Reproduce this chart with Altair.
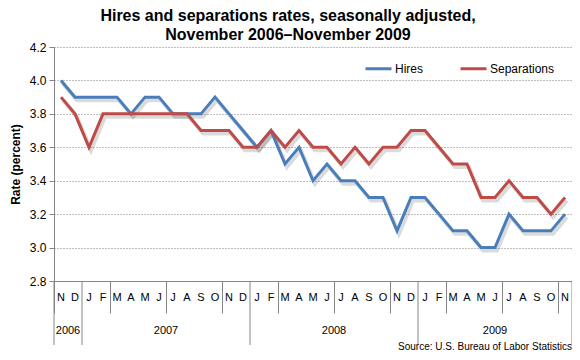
import altair as alt
import pandas as pd

months = ["N", "D",
          "J", "F", "M", "A", "M", "J", "J", "A", "S", "O", "N", "D",
          "J", "F", "M", "A", "M", "J", "J", "A", "S", "O", "N", "D",
          "J", "F", "M", "A", "M", "J", "J", "A", "S", "O", "N"]
hires = [4.0, 3.9,
         3.9, 3.9, 3.9, 3.8, 3.9, 3.9, 3.8, 3.8, 3.8, 3.9, 3.8, 3.7,
         3.6, 3.7, 3.5, 3.6, 3.4, 3.5, 3.4, 3.4, 3.3, 3.3, 3.1, 3.3,
         3.3, 3.2, 3.1, 3.1, 3.0, 3.0, 3.2, 3.1, 3.1, 3.1, 3.2]
separations = [3.9, 3.8,
               3.6, 3.8, 3.8, 3.8, 3.8, 3.8, 3.8, 3.8, 3.7, 3.7, 3.7, 3.6,
               3.6, 3.7, 3.6, 3.7, 3.6, 3.6, 3.5, 3.6, 3.5, 3.6, 3.6, 3.7,
               3.7, 3.6, 3.5, 3.5, 3.3, 3.3, 3.4, 3.3, 3.3, 3.2, 3.3]
years = ["2006", "2007", "2008", "2009"]
year_start = [0, 2, 14, 26]
year_end = [1, 13, 25, 36]
series = ["Hires", "Separations"]
colors = ["#4A7EBB", "#BE4B48"]
y_ticks = [2.8, 3.0, 3.2, 3.4, 3.6, 3.8, 4.0, 4.2]

FONT = "Liberation Sans"
W, H = 518, 234
n = len(months)

rows = []
for i in range(n):
    rows.append({"i": i, "series": "Hires", "value": hires[i]})
    rows.append({"i": i, "series": "Separations", "value": separations[i]})
df = pd.DataFrame(rows)
mdf = pd.DataFrame({"i": list(range(n)), "m": months})
ydf = pd.DataFrame({"year": years,
                    "c": [(s + e) / 2 for s, e in zip(year_start, year_end)]})
bdf = pd.DataFrame({"b": [s - 0.5 for s in year_start] + [year_end[-1] + 0.5]})

xscale = alt.Scale(domain=[-0.5, n - 0.5], nice=False, zero=False)
yscale = alt.Scale(domain=[2.8, 4.2], nice=False, zero=False)

xaxis = alt.Axis(values=[k - 0.5 for k in range(n + 1)], labels=False, grid=False,
                 tickSize=32, tickColor="#868686", domainColor="#868686", title=None)
yaxis = alt.Axis(values=y_ticks, format=".1f", labelOverlap=False,
                 grid=True, gridDash=[1, 2], gridColor="#7f7f7f",
                 tickSize=5, tickColor="#868686", domainColor="#868686",
                 labelFont=FONT, labelFontSize=12, labelColor="#000000", labelPadding=3,
                 title="Rate (percent)", titleFont=FONT, titleFontSize=12,
                 titleFontWeight="bold", titleColor="#000000", titlePadding=7)

xenc = alt.X("i:Q", scale=xscale, axis=xaxis)
yenc = alt.Y("value:Q", scale=yscale, axis=yaxis)

base = alt.Chart(df)
shadow = base.mark_line(strokeWidth=4, color="#000000", opacity=0.14,
                        xOffset=2, yOffset=3).encode(
    x=xenc, y=yenc, detail="series:N",
)
lines = base.mark_line(strokeWidth=3).encode(
    x=xenc, y=yenc,
    color=alt.Color("series:N", scale=alt.Scale(domain=series, range=colors),
                    legend=alt.Legend(orient="none", legendX=310, legendY=7,
                                      direction="horizontal", title=None,
                                      symbolType="stroke", symbolSize=676,
                                      symbolStrokeWidth=3, labelFont=FONT,
                                      labelFontSize=12, labelColor="#000000",
                                      columnPadding=30, labelOffset=2)),
)
mtext = alt.Chart(mdf).mark_text(font=FONT, fontSize=11, color="#000000").encode(
    x=alt.X("i:Q", scale=xscale), y=alt.value(H + 17), text="m:N")
ytext = alt.Chart(ydf).mark_text(font=FONT, fontSize=11, color="#000000").encode(
    x=alt.X("c:Q", scale=xscale), y=alt.value(H + 50), text="year:N")
brules = alt.Chart(bdf).mark_rule(color="#868686", strokeWidth=1).encode(
    x=alt.X("b:Q", scale=xscale), y=alt.value(H), y2=alt.value(H + 64))
source = alt.Chart(pd.DataFrame({"t": ["Source: U.S. Bureau of Labor Statistics"]})).mark_text(
    font=FONT, fontSize=10, color="#000000", align="right").encode(
    x=alt.value(W), y=alt.value(H + 66), text="t:N")

chart = alt.layer(shadow, lines, mtext, ytext, brules, source).properties(
    width=W, height=H,
    autosize=alt.AutoSizeParams(type="none"),
    padding={"left": 46, "top": 39, "right": 0, "bottom": 71},
    title=alt.TitleParams(text=["Hires and separations rates, seasonally adjusted,",
                                "November 2006\u2013November 2009"],
                          font=FONT, fontSize=16, fontWeight="bold", color="#000000",
                          anchor="middle", dx=-25, dy=7, offset=5, lineHeight=19),
).configure_view(stroke=None)

chart.save("out.html", embed_options={"renderer": "svg", "actions": False})
